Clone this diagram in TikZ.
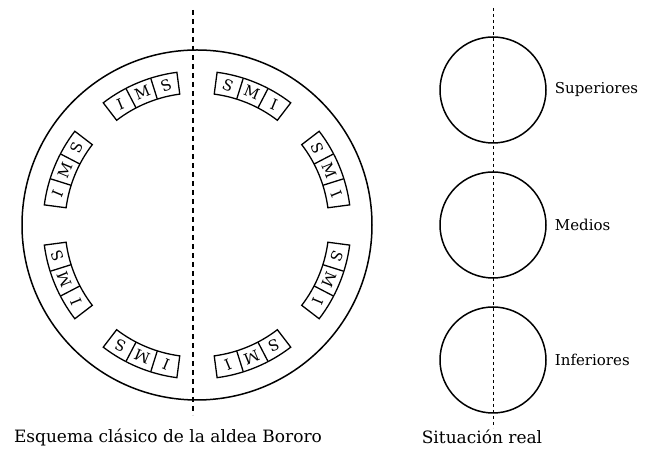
\documentclass[tikz,border=0pt]{standalone}
\usepackage{fontspec}
\setmainfont{DejaVu Serif}
\usepackage{tikz}
\usetikzlibrary{positioning}
\tikzset{
  ring/.style={circle, draw=black, line width=1.5pt, minimum size=106pt, inner sep=0pt},
  cellbox/.style={draw=black, line width=1.3pt, fill=white},
  letter/.style={inner sep=0pt, font=\fontsize{15}{15}\selectfont},
  axis/.style={draw=black, line width=1.4pt, dash pattern=on 5pt off 4pt},
  thinaxis/.style={draw=black, line width=1pt, dash pattern=on 3pt off 3pt},
  caption/.style={inner sep=0pt, font=\fontsize{17}{19}\selectfont},
  side/.style={inner sep=0pt, font=\fontsize{15}{17}\selectfont}
}
\begin{document}
\begin{tikzpicture}[x=1pt, y=1pt, node distance=8pt]
  \useasboundingbox (0,0) rectangle (657,449);

  % village
  \coordinate (village) at (197,224);
  \draw[line width=1.5pt] (village) circle[radius=175pt];
  \begin{scope}[shift={(village)}]
    \foreach \a/\p/\q in {112.5/I/S, 157.5/I/S, 202.5/I/S, 247.5/I/S,
                          67.5/S/I, 22.5/S/I, -22.5/S/I, -67.5/S/I}{
      \draw[cellbox] (\a-15:132pt) arc[start angle=\a-15, end angle=\a+15, radius=132pt]
        -- (\a+15:154pt) arc[start angle=\a+15, end angle=\a-15, radius=154pt] -- cycle;
      \draw[cellbox] (\a+5:132pt) -- (\a+5:154pt);
      \draw[cellbox] (\a-5:132pt) -- (\a-5:154pt);
      \node[letter, rotate=\a-90] at (\a+10:143pt) {\p};
      \node[letter, rotate=\a-90] at (\a:143pt) {M};
      \node[letter, rotate=\a-90] at (\a-10:143pt) {\q};
    }
  \end{scope}
  \coordinate (axtop) at (193,439);
  \coordinate (axbot) at (193,34);
  \draw[axis] (axtop) -- (axbot);

  % real situation
  \node[ring] (sup) at (493,359) {};
  \node[ring] (med) at (493,224) {};
  \node[ring] (inf) at (493,89) {};
  \node[side, right=of sup] {Superiores};
  \node[side, right=of med] {Medios};
  \node[side, right=of inf] {Inferiores};
  \coordinate (rtop) at (493,441);
  \coordinate (rbot) at (493,21);
  \draw[thinaxis] (rtop) -- (rbot);

  % captions
  \node[caption] (esq) at (168,12) {Esquema clásico de la aldea Bororo};
  \node[caption] (sit) at (482,12) {Situación real};
\end{tikzpicture}
\end{document}
